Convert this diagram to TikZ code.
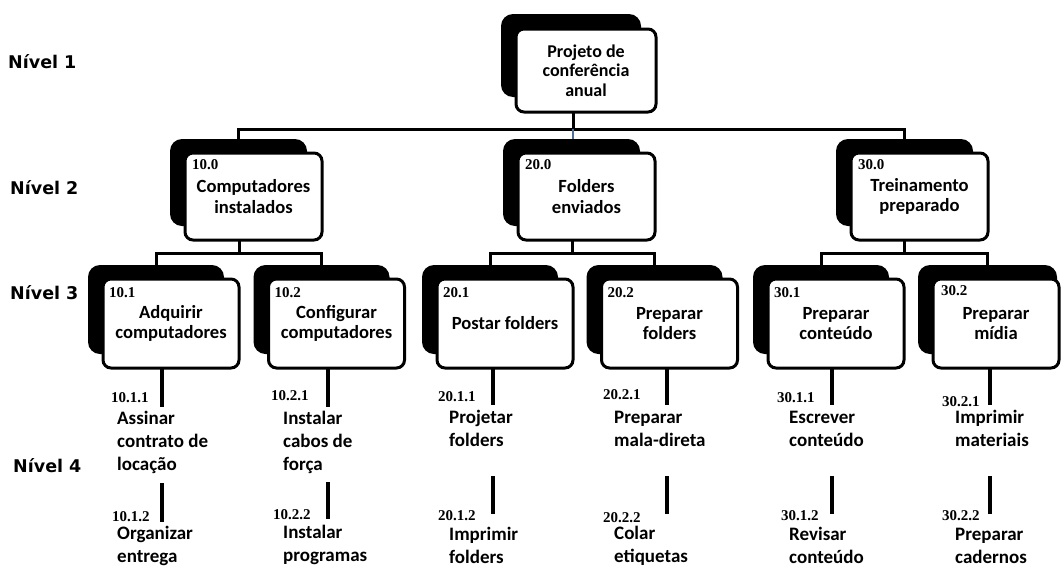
\documentclass[tikz,border=0pt]{standalone}
\usepackage{fontspec}
\setmainfont{Carlito}
\newfontfamily\numfont{Liberation Serif}
\newfontfamily\lvlfont{DejaVu Sans}
\definecolor{conblue}{RGB}{80,110,150}
\tikzset{
  shadowbox/.style={fill=black, rounded corners=12pt, inner sep=0pt, outer sep=0pt},
  frontbox/.style={draw=black, line width=3pt, fill=white, rounded corners=8pt, inner sep=0pt, outer sep=0pt, align=center, font=\bfseries\fontsize{18.6}{20.5}\selectfont},
  topsize/.style={minimum width=140pt, minimum height=83pt},
  lvtwo/.style={minimum width=137pt, minimum height=87pt},
  lvthree/.style={minimum width=136pt, minimum height=89pt},
  numlabel/.style={font=\numfont\bfseries\fontsize{15}{16}\selectfont, inner sep=0pt, anchor=west},
  leaf/.style={font=\bfseries\fontsize{19}{23}\selectfont, align=left, inner sep=0pt, anchor=west},
  lvl/.style={font=\lvlfont\bfseries\fontsize{17.5}{20}\selectfont, inner sep=0pt, anchor=west},
  conn/.style={line width=3pt},
  bconn/.style={line width=2pt, draw=conblue},
  stem/.style={line width=4pt},
}
\begin{document}
\begin{tikzpicture}[x=1pt,y=-1pt]
\fill[white] (0,0) rectangle (1062,568);
\useasboundingbox (0,0) rectangle (1062,568);

% level labels
\node[lvl] (lv1) at (8,62) {Nível 1};
\node[lvl] (lv2) at (10,188) {Nível 2};
\node[lvl] (lv3) at (10,293) {Nível 3};
\node[lvl] (lv4) at (13,466) {Nível 4};

% shadows (drawn first)
\node[shadowbox, topsize] (s0) at (571,55.5) {};
\node[shadowbox, lvtwo] (s10) at (238.5,182.5) {};
\node[shadowbox, lvtwo] (s20) at (571.5,182.5) {};
\node[shadowbox, lvtwo] (s30) at (904.5,182.5) {};
\node[shadowbox, lvthree] (s101) at (156,309.5) {};
\node[shadowbox, lvthree] (s102) at (321.5,309.5) {};
\node[shadowbox, lvthree] (s201) at (490,309.5) {};
\node[shadowbox, lvthree] (s202) at (654.5,309.5) {};
\node[shadowbox, lvthree] (s301) at (821,309.5) {};
\node[shadowbox, lvthree, minimum width=139pt] (s302) at (987.5,309.5) {};

% front boxes
\node[frontbox, topsize, font=\bfseries\fontsize{18}{19.5}\selectfont] (f0) at (586,70.5) {Projeto de\\conferência\\anual};
\node[frontbox, lvtwo] (f10) at (253.5,196.5) {Computadores\\instalados};
\node[frontbox, lvtwo] (f20) at (586.5,196.5) {Folders\\enviados};
\node[frontbox, lvtwo] (f30) at (919.5,196.5) {Treinamento\\preparado};
\node[frontbox, lvthree] (f101) at (171,323.5) {Adquirir\\computadores};
\node[frontbox, lvthree] (f102) at (336.5,323.5) {Configurar\\computadores};
\node[frontbox, lvthree] (f201) at (505,323.5) {Postar folders};
\node[frontbox, lvthree] (f202) at (669.5,323.5) {Preparar\\folders};
\node[frontbox, lvthree] (f301) at (836,323.5) {Preparar\\conteúdo};
\node[frontbox, lvthree, minimum width=126pt] (f302) at (996,323.5) {Preparar\\mídia};

% numbers in boxes
\node[numlabel] (n10) at ([xshift=7pt,yshift=-12pt]f10.north west) {10.0};
\node[numlabel] (n20) at ([xshift=7pt,yshift=-12pt]f20.north west) {20.0};
\node[numlabel] (n30) at ([xshift=7pt,yshift=-12pt]f30.north west) {30.0};
\node[numlabel] (n101) at ([xshift=6pt,yshift=-14pt]f101.north west) {10.1};
\node[numlabel] (n102) at ([xshift=6pt,yshift=-14pt]f102.north west) {10.2};
\node[numlabel] (n201) at ([xshift=6pt,yshift=-14pt]f201.north west) {20.1};
\node[numlabel] (n202) at ([xshift=6pt,yshift=-14pt]f202.north west) {20.2};
\node[numlabel] (n301) at ([xshift=6pt,yshift=-14pt]f301.north west) {30.1};
\node[numlabel] (n302) at ([xshift=8pt,yshift=-12pt]f302.north west) {30.2};

% connectors level 1 -> level 2
\coordinate (b0) at (573,129);
\draw[conn] (f0.south -| b0) -- (b0);
\draw[conn] (s10.north) |- (b0) -| (s30.north);
\draw[bconn] (b0) -- (b0 |- s20.north);

% connectors level 2 -> level 3
\coordinate (b10) at (239,253);
\coordinate (b20) at (572,253);
\coordinate (b30) at (904,253);
\draw[conn] (f10.south -| b10) -- (b10);
\draw[conn] (s101.north) |- (b10) -| (s102.north);
\draw[conn] (f20.south -| b20) -- (b20);
\draw[conn] (s201.north) |- (b20) -| (s202.north);
\draw[conn] (f30.south -| b30) -- (b30);
\draw[conn] (s301.north) |- (b30) -| (s302.north);

% level 4 leaves
\node[numlabel] (m1011) at (111,398) {10.1.1};
\node[leaf] (t1011) at (117,442.7) {Assinar\\contrato de\\locação};
\node[numlabel] (m1012) at (112,517) {10.1.2};
\node[leaf] (t1012) at (117,545.5) {Organizar\\entrega};
\node[numlabel] (m1021) at (271,396) {10.2.1};
\node[leaf] (t1021) at (283,442.7) {Instalar\\cabos de\\força};
\node[numlabel] (m1022) at (273,515) {10.2.2};
\node[leaf] (t1022) at (283,544.5) {Instalar\\programas};
\node[numlabel] (m2011) at (438,397) {20.1.1};
\node[leaf] (t2011) at (449,428.5) {Projetar\\folders};
\node[numlabel] (m2012) at (438,516) {20.1.2};
\node[leaf] (t2012) at (449,545.5) {Imprimir\\folders};
\node[numlabel] (m2021) at (603,395) {20.2.1};
\node[leaf] (t2021) at (614,428.5) {Preparar\\mala-direta};
\node[numlabel] (m2022) at (603,518) {20.2.2};
\node[leaf] (t2022) at (614,545.5) {Colar\\etiquetas};
\node[numlabel] (m3011) at (777,398) {30.1.1};
\node[leaf] (t3011) at (789,428.5) {Escrever\\conteúdo};
\node[numlabel] (m3012) at (781,516) {30.1.2};
\node[leaf] (t3012) at (789,545.5) {Revisar\\conteúdo};
\node[numlabel] (m3021) at (942,402) {30.2.1};
\node[leaf] (t3021) at (955,428.5) {Imprimir\\materiais};
\node[numlabel] (m3022) at (942,516) {30.2.2};
\node[leaf] (t3022) at (955,545.5) {Preparar\\cadernos};

% stems level 3 -> level 4
\coordinate (a101) at (162,407); \coordinate (c101a) at (162,483); \coordinate (c101b) at (162,522);
\coordinate (a102) at (328,407); \coordinate (c102a) at (328,482); \coordinate (c102b) at (328,519);
\coordinate (a201) at (493,405); \coordinate (c201a) at (493,476); \coordinate (c201b) at (493,514);
\coordinate (a202) at (667,405); \coordinate (c202a) at (667,476); \coordinate (c202b) at (667,514);
\coordinate (a301) at (832,405); \coordinate (c301a) at (832,476); \coordinate (c301b) at (832,514);
\coordinate (a302) at (990,405); \coordinate (c302a) at (990,476); \coordinate (c302b) at (990,514);
\draw[stem] (f101.south -| a101) -- (a101); \draw[stem] (c101a) -- (c101b);
\draw[stem] (f102.south -| a102) -- (a102); \draw[stem] (c102a) -- (c102b);
\draw[stem] (f201.south -| a201) -- (a201); \draw[stem] (c201a) -- (c201b);
\draw[stem] (f202.south -| a202) -- (a202); \draw[stem] (c202a) -- (c202b);
\draw[stem] (f301.south -| a301) -- (a301); \draw[stem] (c301a) -- (c301b);
\draw[stem] (f302.south -| a302) -- (a302); \draw[stem] (c302a) -- (c302b);
\end{tikzpicture}
\end{document}
